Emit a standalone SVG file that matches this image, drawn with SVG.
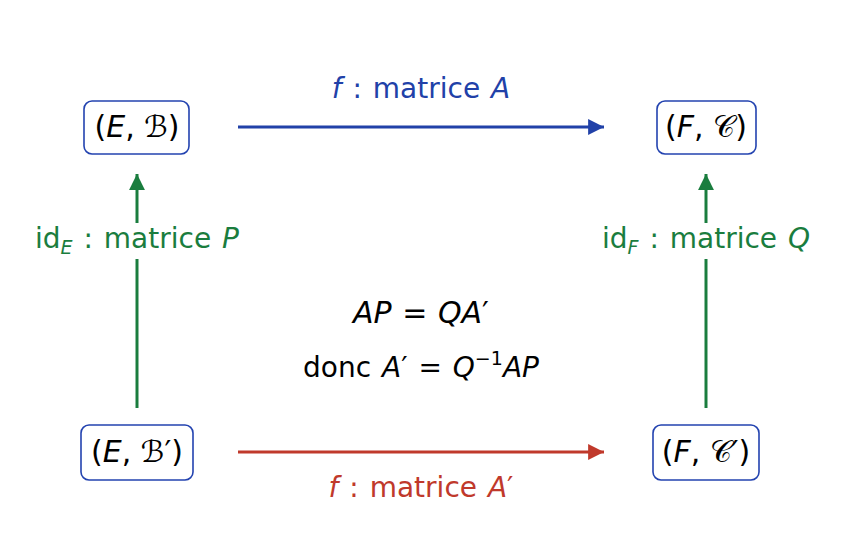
<svg xmlns="http://www.w3.org/2000/svg" width="843" height="549" viewBox="0 0 843 549">
<style>
text{font-family:"DejaVu Sans","Noto Sans",sans-serif;}
.node rect{fill:#fff;stroke:#2343b0;stroke-width:1.6;}
.nt{font-size:30px;fill:#000;text-anchor:middle;}
.lbl{font-size:28px;text-anchor:middle;word-spacing:2px;}
.it{font-style:italic;}
.blue{fill:#2141a8;} .green{fill:#1a7d3e;} .red{fill:#c0392b;}
.ln{stroke-width:3;fill:none;}
</style>
<defs>
<marker id="ab" viewBox="0 0 10 10" refX="10" refY="5" markerWidth="5.3" markerHeight="5.3" markerUnits="strokeWidth" orient="auto"><path d="M0,0L10,5L0,10z" fill="#2141a8"/></marker>
<marker id="ag" viewBox="0 0 10 10" refX="10" refY="5" markerWidth="5.3" markerHeight="5.3" markerUnits="strokeWidth" orient="auto"><path d="M0,0L10,5L0,10z" fill="#1a7d3e"/></marker>
<marker id="ar" viewBox="0 0 10 10" refX="10" refY="5" markerWidth="5.3" markerHeight="5.3" markerUnits="strokeWidth" orient="auto"><path d="M0,0L10,5L0,10z" fill="#c0392b"/></marker>
</defs>
<rect width="843" height="549" fill="#fff"/>
<g id="connectors">
<line class="ln" x1="238" y1="127" x2="604" y2="127" stroke="#2141a8" marker-end="url(#ab)"/>
<line class="ln" x1="238" y1="452" x2="604" y2="452" stroke="#c0392b" marker-end="url(#ar)"/>
<line class="ln" x1="137" y1="408" x2="137" y2="174" stroke="#1a7d3e" marker-end="url(#ag)"/>
<line class="ln" x1="706" y1="408" x2="706" y2="174" stroke="#1a7d3e" marker-end="url(#ag)"/>
<rect x="30" y="223" width="215" height="36" fill="#fff"/>
<rect x="598" y="223" width="218" height="36" fill="#fff"/>
<text class="lbl blue" x="421" y="98"><tspan class="it">f</tspan> : matrice <tspan class="it">A</tspan></text>
<text class="lbl red" x="421" y="497"><tspan class="it">f</tspan> : matrice <tspan class="it">A</tspan>′</text>
<text class="lbl green" x="137" y="248">id<tspan class="it" font-size="19" dy="6">E</tspan><tspan dy="-6"> : matrice </tspan><tspan class="it">P</tspan></text>
<text class="lbl green" x="706" y="248">id<tspan class="it" font-size="19" dy="6">F</tspan><tspan dy="-6"> : matrice </tspan><tspan class="it">Q</tspan></text>
</g>
<g id="node-EB" class="node">
<rect x="84" y="101" width="105" height="53" rx="8"/>
<text class="nt" x="137" y="137">(<tspan class="it">E</tspan>, ℬ)</text>
</g>
<g id="node-FC" class="node">
<rect x="657" y="101" width="99" height="53" rx="8"/>
<text class="nt" x="706" y="137">(<tspan class="it">F</tspan>, 𝒞)</text>
</g>
<g id="node-EB2" class="node">
<rect x="81" y="425" width="112" height="55" rx="8"/>
<text class="nt" x="137" y="462">(<tspan class="it">E</tspan>, ℬ′)</text>
</g>
<g id="node-FC2" class="node">
<rect x="653" y="425" width="106" height="55" rx="8"/>
<text class="nt" x="706" y="462">(<tspan class="it">F</tspan>, 𝒞′)</text>
</g>
<g id="relation">
<text class="nt" x="421" y="323" font-size="30" word-spacing="1"><tspan class="it">AP</tspan> = <tspan class="it">QA</tspan>′</text>
<text class="lbl" x="421" y="377" fill="#000">donc <tspan class="it">A</tspan>′ = <tspan class="it">Q</tspan><tspan font-size="19" dy="-12">−1</tspan><tspan class="it" dy="12">AP</tspan></text>
</g>
</svg>
